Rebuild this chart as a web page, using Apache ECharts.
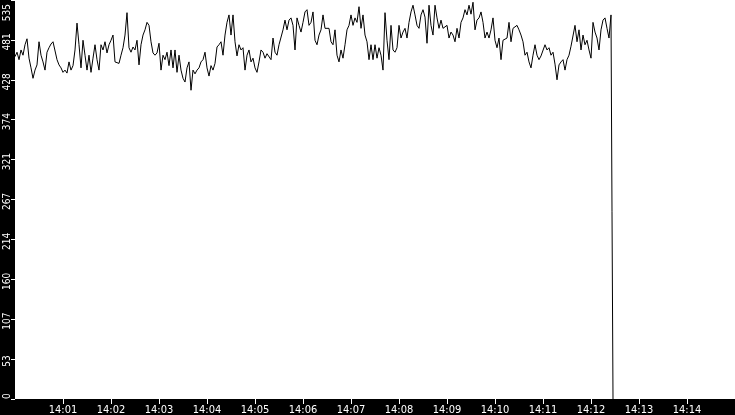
<!DOCTYPE html>
<html>
<head>
<meta charset="utf-8">
<script src="https://cdn.jsdelivr.net/npm/echarts@6/dist/echarts.min.js"></script>
<style>
html,body{margin:0;padding:0;background:#000;}
#c{width:735px;height:415px;}
</style>
</head>
<body>
<div id="c"></div>
<script>
// Time axis: seconds after 14:00:00
const xMin = 0, xMax = 900, xTickStep = 60;
const sampleStart = 0, sampleStep = 2.5;
// Y axis
const yMin = 0, yMax = 535, yTickStep = 53.5;

// sampled values (every 2.5 s from 14:00:00)
const values1 = [459,465,455,468,461,475,483,457,444,430,441,448,479,461,452,441,465,471,476,479,
481,455,448,444,438,441,437,452,441,447,468,504,475,444,481,461,441,461,438,457,
475,455,441,475,468,479,464,475,481,488,452,450];
const values2 = [450,461,471,488,518,471,465,472,468,481,448,475,488,495,505,501,479,464,461,464,
477,441,461,455,465,447,468,444,468,438,461,441,430,425,444,452,414,441,436,441,
444,452,455,465,444,433,447,441,450,472];
const values3 = [475,479,461,488,505,515,488,515,479,460,475,468,471,441,461,468,452,457,444,438,
452,468,465,457,463,461,455,484,465,461,475,473,495,508,495,508,511,501,468,511,
501,492,505,519,522,501,505,519,481,475];
const values4 = [488,495,515,497,495,497,479,475,495,461,452,468,457,475,495,501,515,501,511,505,
526,497,515,488,479,455,475,455,475,457,471,461,441,518,481,455,501,468,465,471,
501,484,492,497,484,505,519,528,515,501];
const values5 = [497,515,522,512,477,528,501,488,528,511,497,508,497,499,501,484,492,488,479,497,
484,505,511,522,515,528,516,532,495,508,511,519,505,484,492,484,495,511,481,471,
484,455,481,481,484,505,479,497,495,501];
const values6 = [495,488,479,461,465,452,444,461,475,461,455,460,461,475,468,471,461,465,449,428,
448,452,455,441,455,461,473,475,501,479,495,468,488,475,481,468,457,505,492,484,
468,495,508,511,497,484,515];
// final drop
const dropTimes = [746.25, 747.5];
const dropValues = [251, 0];

const values = [].concat(values1, values2, values3, values4, values5, values6);
const seriesData = values.map((v, i) => [sampleStart + i * sampleStep, v]);
dropTimes.forEach((t, i) => seriesData.push([t, dropValues[i]]));

function fmtTime(s){
  const m = Math.round(s / 60);
  return '14:' + String(m).padStart(2, '0');
}

const FONT = "'DejaVu Sans Condensed', 'DejaVu Sans', sans-serif";
const chart = echarts.init(document.getElementById('c'), null, {renderer:'canvas'});
chart.setOption({
  animation: false,
  backgroundColor: '#000',
  grid: {left: 15, right: 0, top: 0, bottom: 16, show: true, backgroundColor: '#fff', borderWidth: 0,
         containLabel: false, outerBoundsMode: 'none'},
  xAxis: {
    type: 'value', min: xMin, max: xMax, interval: xTickStep,
    axisLine: {show: false},
    axisTick: {show: true, length: 5, lineStyle: {color: '#fff', width: 1}},
    splitLine: {show: false},
    axisLabel: {
      color: '#fff', fontFamily: FONT, fontSize: 11, margin: 6,
      showMinLabel: false, showMaxLabel: false,
      formatter: fmtTime
    }
  },
  yAxis: {
    type: 'value', min: yMin, max: yMax, interval: yTickStep,
    axisLine: {show: false},
    axisTick: {show: true, length: 4, lineStyle: {color: '#fff', width: 1}},
    splitLine: {show: false},
    axisLabel: {
      color: '#fff', fontFamily: FONT, fontSize: 10, margin: 3, rotate: 90,
      padding: [0, 4, 0, 0],
      alignMinLabel: 'left', alignMaxLabel: 'right',
      formatter: v => String(Math.floor(v + 1e-9))
    }
  },
  series: [{
    type: 'line',
    data: seriesData,
    showSymbol: false,
    symbol: 'none',
    lineStyle: {color: '#000', width: 1},
    silent: true
  }]
});
</script>
</body>
</html>
